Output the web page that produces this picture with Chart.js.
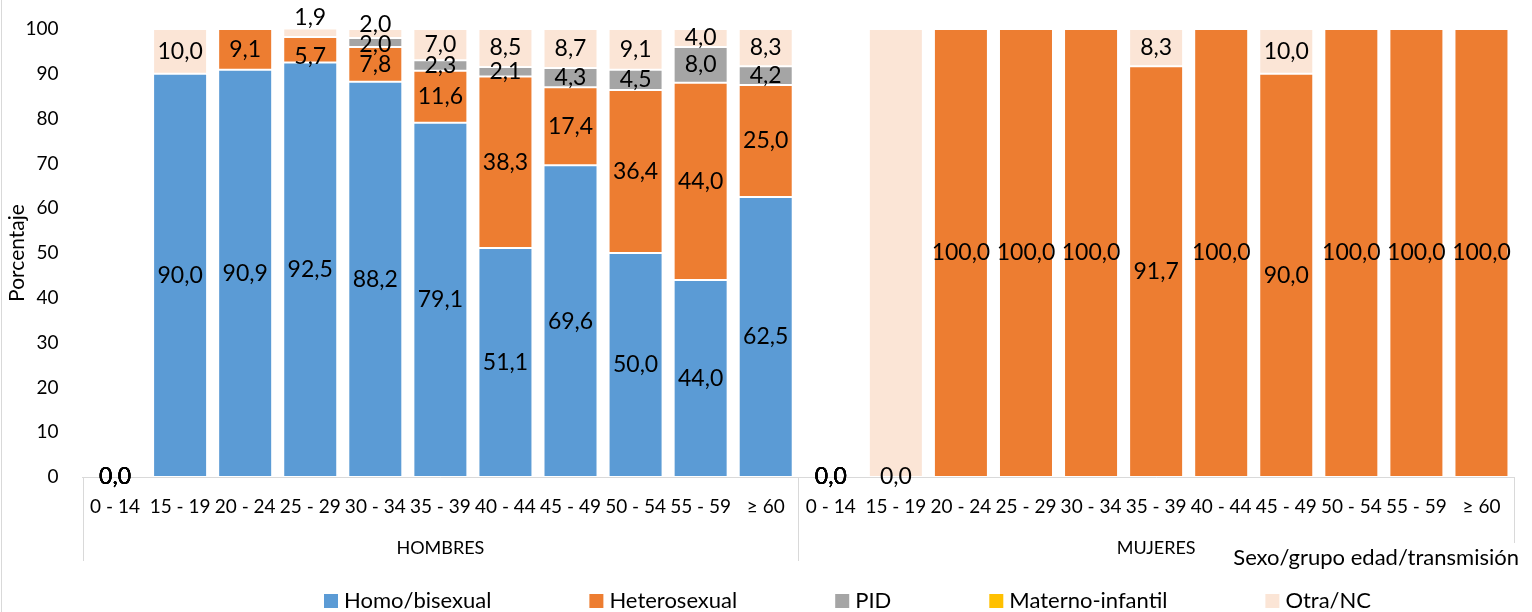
<!DOCTYPE html>
<html>
<head>
<meta charset="utf-8">
<script src="https://cdn.jsdelivr.net/npm/chart.js@4/dist/chart.umd.min.js"></script>
<style>
  html, body { margin: 0; padding: 0; background: #fff; }
  #wrap { width: 1532px; height: 612px; position: relative; }
</style>
</head>
<body>
<div id="wrap"><canvas id="c" width="1532" height="612"></canvas></div>
<script>
// Age groups, repeated for each sex
const ageGroups = ['0 - 14', '15 - 19', '20 - 24', '25 - 29', '30 - 34', '35 - 39',
                   '40 - 44', '45 - 49', '50 - 54', '55 - 59', '≥ 60'];
const sexes = ['HOMBRES', 'MUJERES'];
const categories = sexes.flatMap(() => ageGroups);

// Percentages by transmission route (first 11 = HOMBRES, next 11 = MUJERES); null = no entry
const homoBisexual    = [0, 90.0, 90.9, 92.5, 88.2, 79.1, 51.1, 69.6, 50.0, 44.0, 62.5,
                         0, null, null, null, null, null, null, null, null, null, null];
const heterosexual    = [0, null, 9.1, 5.7, 7.8, 11.6, 38.3, 17.4, 36.4, 44.0, 25.0,
                         0, 0, 100.0, 100.0, 100.0, 91.7, 100.0, 90.0, 100.0, 100.0, 100.0];
const pid             = [0, null, null, null, 2.0, 2.3, 2.1, 4.3, 4.5, 8.0, 4.2,
                         0, null, null, null, null, null, null, null, null, null, null];
const maternoInfantil = [0, null, null, null, null, null, null, null, null, null, null,
                         0, null, null, null, null, null, null, null, null, null, null];
const otraNC          = [0, 10.0, null, 1.9, 2.0, 7.0, 8.5, 8.7, 9.1, 4.0, 8.3,
                         0, 100.0, null, null, null, 8.3, null, 10.0, null, null, null];

const seriesNames  = ['Homo/bisexual', 'Heterosexual', 'PID', 'Materno-infantil', 'Otra/NC'];
const seriesColors = ['#5B9BD5', '#ED7D31', '#A5A5A5', '#FFC000', '#FBE5D6'];
const seriesData   = [homoBisexual, heterosexual, pid, maternoInfantil, otraNC];

// Value labels left out, and small vertical shifts for crowded labels (px)
const hiddenLabels = { 'Otra/NC': [12] };
const labelShift = { 'Otra/NC': { 3: -15, 4: -9 }, 'Heterosexual': { 3: 7 }, 'PID': { 4: 2 } };

const FONT = 'Lato';
Chart.defaults.font.family = FONT;
Chart.defaults.color = '#000';

const fmt = v => v.toFixed(1).replace('.', ',');

const valueLabels = {
  id: 'valueLabels',
  afterDatasetsDraw(chart) {
    const ctx = chart.ctx;
    ctx.save();
    ctx.font = `23px ${FONT}`;
    ctx.fillStyle = '#000';
    ctx.textAlign = 'center';
    ctx.textBaseline = 'middle';
    chart.data.datasets.forEach((ds, i) => {
      const meta = chart.getDatasetMeta(i);
      const hidden = hiddenLabels[ds.label] || [];
      const shifts = labelShift[ds.label] || {};
      meta.data.forEach((el, j) => {
        const v = ds.data[j];
        if (v === null || v === undefined || hidden.includes(j)) return;
        const y = (el.y + el.base) / 2 + (shifts[j] || 0);
        ctx.fillText(fmt(v), el.x, y);
      });
    });
    ctx.restore();
  }
};

const frame = {
  id: 'frame',
  afterDraw(chart) {
    const ctx = chart.ctx;
    const xs = chart.scales.x;
    const area = chart.chartArea;
    const n = ageGroups.length;
    const mid = (xs.getPixelForValue(n - 1) + xs.getPixelForValue(n)) / 2;
    ctx.save();

    // outer left edge
    ctx.strokeStyle = '#d9d9d9';
    ctx.lineWidth = 1;
    ctx.beginPath();
    ctx.moveTo(1.5, 0); ctx.lineTo(1.5, 612);
    ctx.stroke();

    // group separators under the axis
    ctx.beginPath();
    [xs.left, mid].forEach(x => { ctx.moveTo(Math.round(x) + 0.5, area.bottom); ctx.lineTo(Math.round(x) + 0.5, 561); });
    ctx.moveTo(Math.round(xs.right) + 0.5, area.bottom); ctx.lineTo(Math.round(xs.right) + 0.5, 543);
    ctx.stroke();

    // group labels
    ctx.fillStyle = '#000';
    ctx.font = `18px ${FONT}`;
    ctx.textAlign = 'center';
    ctx.textBaseline = 'middle';
    ctx.fillText(sexes[0], (xs.left + mid) / 2, 548);
    ctx.fillText(sexes[1], (mid + xs.right) / 2, 548);

    // x axis title
    ctx.font = `22px ${FONT}`;
    ctx.textAlign = 'right';
    ctx.fillText('Sexo/grupo edad/transmisión', 1519, 558);

    // legend
    ctx.textAlign = 'left';
    let x = 324;
    const yc = 601;
    chart.data.datasets.forEach(ds => {
      ctx.fillStyle = ds.backgroundColor;
      ctx.fillRect(x, yc - 7, 14, 14);
      ctx.fillStyle = '#000';
      ctx.fillText(ds.label, x + 20, yc);
      x += 20 + ctx.measureText(ds.label).width + 98;
    });
    ctx.restore();
  }
};

new Chart(document.getElementById('c'), {
  type: 'bar',
  data: {
    labels: categories,
    datasets: seriesNames.map((name, i) => ({
      label: name,
      data: seriesData[i],
      backgroundColor: seriesColors[i],
      borderColor: 'rgba(255,255,255,0.35)',
      borderWidth: c => (c.raw ? 1 : 0),
      borderSkipped: false,
      barPercentage: 0.83,
      categoryPercentage: 1.0
    }))
  },
  options: {
    responsive: false,
    animation: false,
    layout: { padding: { top: 29, right: 18, left: 0, bottom: 0 } },
    plugins: {
      legend: { display: false },
      tooltip: { enabled: false }
    },
    scales: {
      x: {
        stacked: true,
        offset: true,
        grid: { display: false, drawTicks: false },
        border: { display: true, color: '#d9d9d9' },
        ticks: { font: { size: 19 }, color: '#000', padding: 18, maxRotation: 0, autoSkip: false },
        afterFit(s) { s.height = 135; }
      },
      y: {
        stacked: true,
        min: 0,
        max: 100,
        grid: { display: false, drawTicks: false },
        border: { display: false },
        ticks: { stepSize: 10, font: { size: 19 }, color: '#000', padding: 24 },
        title: { display: true, text: 'Porcentaje', font: { size: 21 }, color: '#000', padding: { top: 5, bottom: 0 } },
        afterFit(s) {
          s.width = 82.5;
          s.paddingTop = 12;
          s.paddingBottom = 12;
        }
      }
    }
  },
  plugins: [valueLabels, frame]
});
</script>
</body>
</html>
